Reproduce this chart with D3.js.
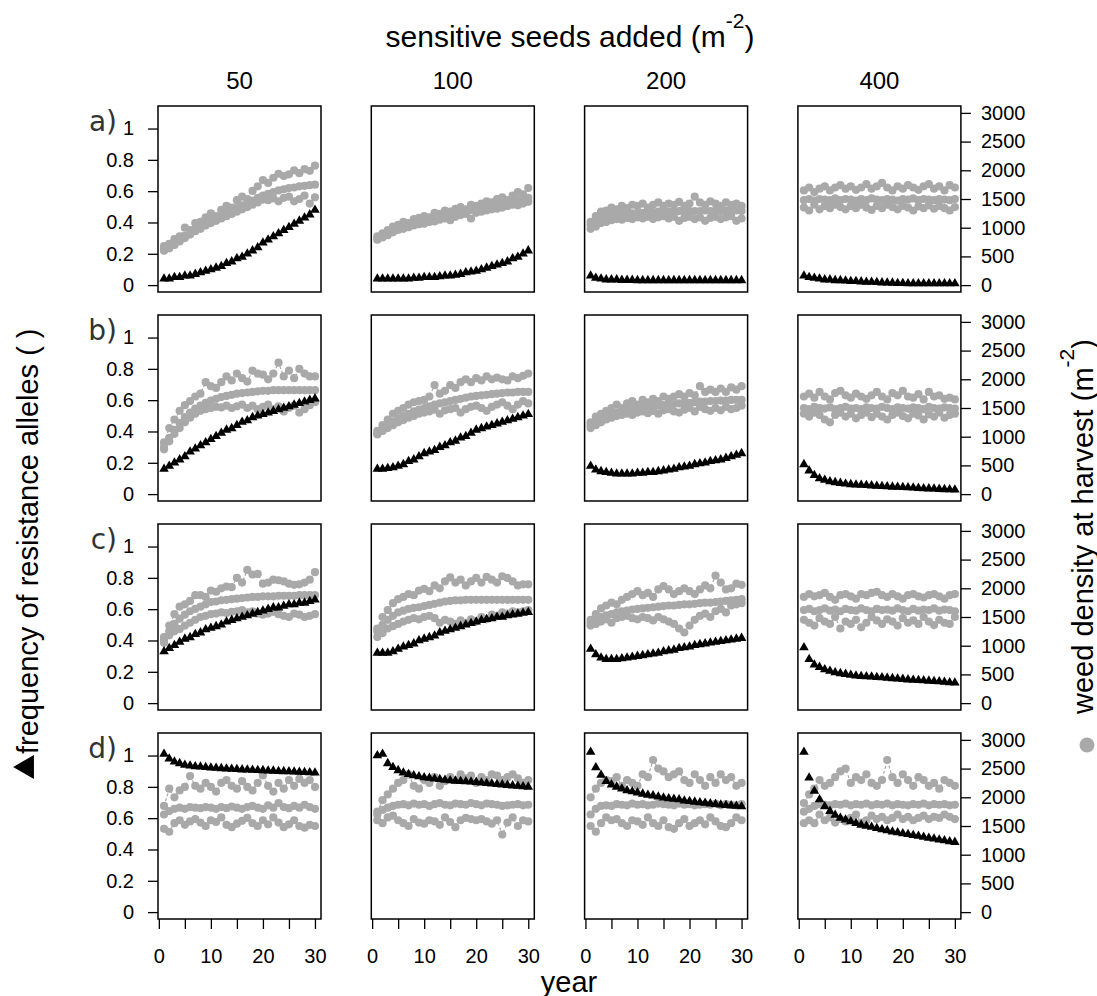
<!DOCTYPE html>
<html lang="en">
<head>
  <meta charset="UTF-8">
  <title>Resistance allele frequency and weed density</title>
  <script src="https://d3js.org/d3.v7.min.js"></script>
  <style>
    body { margin: 0; background: #fff; }
    text { font-family: "Liberation Sans", Arial, sans-serif; fill: #000; }
    .tick line { stroke: #000; stroke-width: 1.3px; }
    .tick text { font-size: 20px; }
  </style>
</head>
<body>
  <svg id="chart" width="1097" height="996"></svg>
  <script>
    // ---- data -------------------------------------------------------------
    const years = [1,2,3,4,5,6,7,8,9,10,11,12,13,14,15,16,17,18,19,20,21,22,23,24,25,26,27,28,29,30];
    const rowLabels = ['a)', 'b)', 'c)', 'd)'];
    const seedLevels = [50, 100, 200, 400];
    const freqTicks = [0, 0.2, 0.4, 0.6, 0.8, 1];
    const densTicks = [0, 500, 1000, 1500, 2000, 2500, 3000];
    const yearTicks = [0, 5, 10, 15, 20, 25, 30];
    const yearLabels = [0, 10, 20, 30];

    // row a
    const freq_a50 = [0.04,0.04,0.05,0.05,0.06,0.06,0.07,0.08,0.09,0.10,0.11,0.12,0.14,0.15,0.17,0.18,0.20,0.22,0.24,0.27,0.29,0.31,0.33,0.35,0.37,0.39,0.41,0.43,0.45,0.48];
    const hi_a50 = [680,720,800,850,1000,960,1080,1100,1180,1250,1200,1310,1380,1350,1480,1540,1500,1640,1720,1830,1780,1870,1940,1900,1930,2000,1950,2020,1990,2080];
    const mid_a50 = [630,660,720,780,860,920,980,1030,1080,1120,1170,1220,1260,1300,1340,1390,1430,1470,1520,1560,1590,1620,1650,1670,1690,1700,1720,1730,1740,1750];
    const lo_a50 = [600,640,700,760,820,880,940,980,1040,1080,1120,1160,1200,1240,1280,1320,1360,1400,1440,1490,1480,1510,1460,1520,1540,1460,1500,1560,1420,1530];

    const freq_a100 = [0.04,0.04,0.04,0.04,0.04,0.04,0.04,0.045,0.045,0.05,0.05,0.05,0.055,0.06,0.06,0.065,0.07,0.08,0.085,0.09,0.10,0.11,0.12,0.13,0.14,0.15,0.17,0.18,0.20,0.22];
    const hi_a100 = [850,900,960,1020,1050,1100,1080,1150,1170,1200,1180,1260,1240,1300,1280,1330,1360,1320,1400,1380,1420,1460,1440,1500,1530,1480,1560,1620,1580,1690];
    const mid_a100 = [810,850,900,950,990,1020,1050,1070,1090,1110,1130,1160,1180,1200,1230,1250,1270,1290,1310,1320,1340,1360,1380,1400,1420,1440,1460,1480,1500,1520];
    const lo_a100 = [790,830,870,920,960,980,1010,1040,1060,1070,1100,1110,1140,1160,1130,1190,1220,1240,1160,1260,1280,1300,1320,1330,1350,1380,1400,1390,1420,1450];

    const freq_a200 = [0.06,0.045,0.04,0.035,0.035,0.035,0.032,0.032,0.032,0.03,0.03,0.03,0.03,0.03,0.03,0.03,0.03,0.03,0.03,0.03,0.03,0.03,0.03,0.03,0.03,0.03,0.03,0.03,0.03,0.03];
    const hi_a200 = [1100,1200,1280,1300,1350,1320,1380,1340,1400,1380,1420,1350,1400,1440,1380,1420,1400,1450,1380,1420,1540,1440,1400,1460,1420,1380,1440,1400,1420,1380];
    const mid_a200 = [1050,1120,1180,1200,1220,1230,1240,1250,1250,1260,1260,1270,1270,1280,1270,1280,1280,1290,1280,1290,1290,1290,1300,1290,1300,1290,1300,1290,1300,1290];
    const lo_a200 = [980,1020,1080,1100,1130,1150,1140,1170,1150,1180,1160,1190,1150,1180,1200,1160,1190,1120,1170,1190,1150,1180,1120,1170,1190,1150,1180,1200,1120,1160];

    const freq_a400 = [0.06,0.05,0.045,0.04,0.035,0.035,0.03,0.03,0.028,0.025,0.025,0.022,0.02,0.02,0.018,0.016,0.015,0.014,0.012,0.012,0.01,0.01,0.01,0.01,0.01,0.01,0.01,0.01,0.01,0.01];
    const hi_a400 = [1650,1700,1620,1680,1720,1650,1700,1740,1680,1720,1660,1700,1760,1680,1720,1780,1700,1650,1720,1680,1740,1700,1660,1720,1760,1680,1720,1650,1740,1700];
    const mid_a400 = [1480,1500,1470,1500,1490,1480,1510,1480,1500,1490,1470,1500,1480,1510,1490,1480,1500,1490,1470,1500,1490,1510,1480,1500,1490,1480,1500,1490,1480,1500];
    const lo_a400 = [1350,1300,1400,1320,1380,1340,1400,1360,1320,1380,1340,1400,1350,1310,1380,1340,1400,1360,1320,1380,1350,1300,1370,1340,1390,1330,1380,1340,1300,1360];

    // row b
    const freq_b50 = [0.16,0.18,0.20,0.22,0.24,0.27,0.29,0.31,0.33,0.35,0.37,0.39,0.41,0.42,0.44,0.46,0.47,0.49,0.50,0.51,0.52,0.53,0.54,0.55,0.56,0.57,0.58,0.59,0.60,0.61];
    const hi_b50 = [900,1150,1300,1450,1550,1620,1700,1750,1950,1880,1850,1950,2050,1980,2100,2020,1960,2150,2100,2080,2000,2100,2290,2050,2150,2020,2180,2100,2050,2050];
    const mid_b50 = [820,980,1120,1240,1340,1420,1490,1540,1590,1630,1660,1690,1710,1730,1750,1760,1770,1780,1790,1800,1800,1810,1810,1810,1810,1810,1810,1810,1810,1810];
    const lo_b50 = [780,920,1050,1150,1250,1330,1400,1450,1480,1500,1520,1510,1540,1500,1530,1560,1500,1540,1480,1520,1560,1480,1530,1440,1500,1540,1420,1480,1550,1600];

    const freq_b100 = [0.16,0.16,0.165,0.17,0.18,0.19,0.21,0.22,0.24,0.26,0.27,0.28,0.30,0.31,0.33,0.34,0.36,0.37,0.39,0.41,0.42,0.43,0.44,0.45,0.46,0.47,0.48,0.49,0.50,0.51];
    const hi_b100 = [1100,1200,1300,1400,1450,1500,1560,1600,1620,1640,1700,1900,1750,1800,1900,1850,1950,2000,1950,2020,1980,2050,2000,2030,2000,1980,2050,2020,2060,2100];
    const mid_b100 = [1060,1130,1200,1260,1310,1360,1400,1440,1470,1500,1530,1560,1580,1600,1620,1640,1660,1680,1700,1710,1720,1730,1740,1750,1760,1770,1770,1780,1780,1780];
    const lo_b100 = [1040,1100,1150,1200,1250,1290,1330,1360,1400,1420,1440,1470,1400,1460,1480,1500,1420,1480,1520,1540,1500,1450,1520,1560,1600,1540,1480,1560,1620,1580];

    const freq_b200 = [0.18,0.155,0.145,0.14,0.135,0.13,0.13,0.13,0.13,0.135,0.135,0.14,0.14,0.145,0.15,0.155,0.16,0.17,0.175,0.18,0.19,0.195,0.20,0.21,0.215,0.22,0.23,0.24,0.25,0.26];
    const hi_b200 = [1250,1350,1400,1450,1500,1560,1500,1580,1620,1560,1640,1600,1660,1620,1700,1660,1700,1740,1700,1760,1720,1880,1780,1820,1780,1840,1780,1860,1820,1880];
    const mid_b200 = [1200,1260,1320,1360,1400,1420,1450,1470,1480,1500,1510,1520,1540,1540,1550,1560,1570,1580,1590,1590,1600,1610,1610,1620,1620,1630,1630,1640,1640,1640];
    const lo_b200 = [1150,1200,1250,1300,1330,1360,1380,1400,1380,1420,1440,1410,1450,1400,1460,1480,1440,1420,1470,1500,1440,1520,1480,1450,1500,1460,1520,1480,1500,1540];

    const freq_b400 = [0.19,0.15,0.12,0.10,0.09,0.08,0.075,0.07,0.066,0.062,0.06,0.058,0.056,0.054,0.052,0.05,0.048,0.046,0.045,0.044,0.042,0.04,0.038,0.036,0.035,0.034,0.032,0.03,0.029,0.028];
    const hi_b400 = [1700,1750,1680,1780,1700,1650,1760,1800,1720,1680,1750,1700,1660,1720,1780,1700,1650,1760,1720,1800,1700,1680,1740,1650,1780,1700,1720,1660,1680,1650];
    const mid_b400 = [1500,1480,1520,1500,1490,1510,1480,1500,1520,1490,1500,1480,1510,1500,1490,1520,1500,1480,1510,1500,1490,1510,1500,1480,1520,1500,1490,1510,1500,1490];
    const lo_b400 = [1400,1350,1420,1380,1300,1250,1380,1420,1350,1400,1320,1380,1420,1340,1400,1350,1300,1380,1420,1360,1320,1400,1370,1300,1390,1350,1420,1330,1380,1400];

    // row c
    const freq_c50 = [0.33,0.35,0.37,0.39,0.41,0.42,0.44,0.45,0.47,0.48,0.49,0.50,0.52,0.53,0.54,0.55,0.56,0.57,0.58,0.59,0.60,0.61,0.61,0.62,0.63,0.63,0.64,0.64,0.65,0.66];
    const hi_c50 = [1150,1350,1550,1680,1720,1780,1880,1880,1850,1960,1940,2000,2030,2020,2180,2100,2320,2240,2250,2080,2100,2150,2140,2120,2080,2060,2070,2100,2150,2280];
    const mid_c50 = [1100,1250,1380,1470,1540,1600,1640,1680,1720,1760,1770,1790,1800,1810,1820,1830,1840,1850,1850,1860,1860,1860,1870,1870,1870,1870,1880,1880,1880,1880];
    const lo_c50 = [1050,1180,1250,1290,1350,1400,1450,1500,1520,1550,1560,1580,1570,1590,1600,1620,1580,1600,1560,1540,1560,1590,1550,1520,1500,1560,1540,1500,1520,1550];

    const freq_c100 = [0.32,0.32,0.32,0.33,0.345,0.36,0.37,0.38,0.40,0.41,0.42,0.43,0.45,0.46,0.47,0.48,0.49,0.50,0.51,0.52,0.53,0.535,0.54,0.55,0.55,0.56,0.565,0.57,0.575,0.58];
    const hi_c100 = [1300,1500,1620,1740,1810,1850,1900,1880,1960,1990,1950,2050,2000,2120,2190,2100,2150,2050,2120,2180,2100,2200,2150,2100,2210,2180,2120,2050,2070,2070];
    const mid_c100 = [1250,1360,1450,1520,1580,1610,1640,1660,1670,1690,1710,1730,1750,1770,1780,1790,1790,1800,1800,1800,1800,1800,1800,1800,1800,1800,1800,1800,1800,1800];
    const lo_c100 = [1150,1220,1300,1340,1380,1420,1450,1480,1460,1500,1520,1480,1400,1450,1420,1380,1440,1400,1460,1420,1500,1460,1540,1520,1580,1560,1600,1580,1600,1620];

    const freq_c200 = [0.345,0.31,0.29,0.28,0.28,0.28,0.285,0.29,0.295,0.30,0.305,0.31,0.315,0.32,0.33,0.335,0.34,0.35,0.355,0.36,0.37,0.375,0.38,0.385,0.39,0.395,0.40,0.405,0.41,0.415];
    const hi_c200 = [1450,1550,1650,1700,1750,1720,1800,1850,1900,1950,1880,1920,1850,1980,2040,1980,1900,1950,2000,1950,1900,1980,2050,2000,2220,2100,1980,2000,2080,2060];
    const mid_c200 = [1400,1450,1500,1530,1550,1580,1600,1610,1630,1640,1650,1660,1670,1680,1690,1700,1700,1710,1720,1720,1730,1740,1750,1750,1760,1770,1780,1790,1800,1810];
    const lo_c200 = [1350,1380,1420,1460,1400,1480,1500,1520,1480,1460,1500,1480,1440,1500,1460,1420,1380,1300,1230,1350,1450,1520,1560,1500,1600,1640,1580,1700,1720,1740];

    const freq_c400 = [0.355,0.28,0.245,0.23,0.215,0.205,0.195,0.19,0.185,0.18,0.175,0.172,0.17,0.168,0.165,0.163,0.16,0.158,0.155,0.153,0.15,0.148,0.146,0.144,0.142,0.14,0.138,0.135,0.132,0.13];
    const hi_c400 = [1850,1900,1860,1880,1920,1850,1800,1880,1900,1860,1820,1900,1880,1920,1940,1880,1850,1900,1860,1820,1880,1900,1860,1840,1880,1900,1860,1820,1880,1900];
    const mid_c400 = [1620,1640,1600,1620,1650,1610,1630,1600,1640,1620,1610,1650,1620,1600,1640,1620,1630,1610,1650,1620,1600,1640,1610,1630,1620,1650,1610,1630,1620,1600];
    const lo_c400 = [1450,1400,1350,1480,1420,1380,1500,1300,1420,1380,1450,1320,1400,1500,1440,1380,1460,1420,1350,1480,1400,1440,1380,1500,1420,1360,1450,1400,1380,1500];

    // row d
    const freq_d50 = [1.01,0.98,0.96,0.95,0.94,0.935,0.93,0.928,0.925,0.922,0.92,0.918,0.916,0.914,0.912,0.91,0.909,0.908,0.906,0.905,0.903,0.902,0.90,0.899,0.898,0.896,0.895,0.893,0.892,0.89];
    const hi_d50 = [1850,2150,2000,2120,2180,2370,2200,2150,2250,2180,2100,2250,2300,2200,2150,2280,2180,2120,2250,2380,2200,2100,2250,2150,2300,2200,2320,2250,2300,2180];
    const mid_d50 = [1700,1760,1800,1820,1800,1830,1820,1810,1830,1820,1800,1830,1810,1840,1820,1800,1830,1850,1820,1800,1860,1820,1900,1830,1810,1850,1820,1870,1830,1800];
    const lo_d50 = [1450,1400,1550,1600,1520,1580,1620,1560,1500,1600,1570,1650,1520,1480,1540,1590,1640,1550,1500,1600,1530,1650,1560,1480,1530,1600,1500,1470,1520,1500];

    const freq_d100 = [1.0,1.01,0.95,0.925,0.905,0.89,0.88,0.872,0.866,0.86,0.856,0.852,0.848,0.844,0.84,0.838,0.836,0.834,0.832,0.83,0.826,0.823,0.82,0.817,0.814,0.811,0.808,0.805,0.802,0.80];
    const hi_d100 = [1750,1950,2050,2150,2250,2300,2400,2200,2150,2300,2250,2350,2200,2280,2350,2300,2400,2330,2380,2250,2350,2300,2400,2380,2300,2350,2400,2330,2250,2300];
    const mid_d100 = [1700,1780,1820,1850,1870,1880,1860,1890,1870,1880,1850,1880,1900,1870,1860,1890,1880,1870,1900,1880,1860,1890,1880,1870,1850,1860,1870,1880,1860,1870];
    const lo_d100 = [1600,1550,1650,1680,1600,1550,1500,1620,1560,1540,1600,1580,1520,1650,1570,1480,1600,1640,1620,1600,1620,1580,1540,1600,1350,1560,1650,1500,1600,1580];

    const freq_d200 = [1.023,0.924,0.876,0.836,0.814,0.80,0.788,0.777,0.77,0.763,0.755,0.748,0.744,0.737,0.73,0.726,0.722,0.719,0.711,0.708,0.704,0.70,0.697,0.693,0.689,0.686,0.682,0.68,0.678,0.675];
    const hi_d200 = [2000,2150,2250,2300,2280,2350,2200,2300,2250,2200,2400,2350,2650,2500,2450,2350,2400,2450,2300,2250,2400,2300,2200,2350,2250,2400,2300,2350,2200,2250];
    const mid_d200 = [1700,1800,1850,1860,1850,1880,1870,1860,1890,1870,1880,1860,1870,1890,1880,1870,1860,1890,1870,1880,1860,1870,1880,1870,1890,1860,1880,1870,1860,1880];
    const lo_d200 = [1500,1400,1550,1650,1600,1620,1550,1500,1600,1580,1520,1650,1550,1500,1600,1480,1450,1550,1620,1500,1550,1600,1530,1650,1580,1500,1480,1550,1650,1600];

    const freq_d400 = [1.023,0.858,0.774,0.719,0.675,0.645,0.62,0.601,0.59,0.579,0.568,0.557,0.55,0.543,0.535,0.528,0.521,0.513,0.508,0.502,0.497,0.491,0.486,0.48,0.473,0.468,0.462,0.457,0.451,0.447];
    const hi_d400 = [1900,2050,2150,2300,2200,2250,2350,2450,2500,2250,2350,2300,2400,2250,2200,2300,2650,2350,2250,2400,2300,2200,2350,2300,2200,2250,2150,2300,2250,2200];
    const mid_d400 = [1750,1800,1850,1880,1870,1860,1880,1870,1890,1860,1880,1870,1890,1860,1880,1870,1890,1860,1880,1870,1860,1880,1870,1890,1860,1880,1870,1880,1860,1870];
    const lo_d400 = [1550,1600,1550,1700,1600,1650,1560,1620,1580,1640,1700,1560,1600,1680,1620,1660,1600,1640,1700,1620,1660,1600,1640,1680,1620,1660,1640,1700,1660,1620];

    // lookup table for the panel loop
    const panelData = {
      a50: [freq_a50, hi_a50, mid_a50, lo_a50], a100: [freq_a100, hi_a100, mid_a100, lo_a100],
      a200: [freq_a200, hi_a200, mid_a200, lo_a200], a400: [freq_a400, hi_a400, mid_a400, lo_a400],
      b50: [freq_b50, hi_b50, mid_b50, lo_b50], b100: [freq_b100, hi_b100, mid_b100, lo_b100],
      b200: [freq_b200, hi_b200, mid_b200, lo_b200], b400: [freq_b400, hi_b400, mid_b400, lo_b400],
      c50: [freq_c50, hi_c50, mid_c50, lo_c50], c100: [freq_c100, hi_c100, mid_c100, lo_c100],
      c200: [freq_c200, hi_c200, mid_c200, lo_c200], c400: [freq_c400, hi_c400, mid_c400, lo_c400],
      d50: [freq_d50, hi_d50, mid_d50, lo_d50], d100: [freq_d100, hi_d100, mid_d100, lo_d100],
      d200: [freq_d200, hi_d200, mid_d200, lo_d200], d400: [freq_d400, hi_d400, mid_d400, lo_d400]
    };

    // ---- layout -----------------------------------------------------------
    const svg = d3.select('#chart');
    const left0 = 158, colStep = 213.3, panelW = 163;
    const top0 = 106, rowStep = 209, panelH = 186;
    const grey = '#a9a9a9';

    // R style axes: 4% padding around the data range
    const x = d3.scaleLinear().domain([1 - 1.16, 30 + 1.16]).range([0, panelW]);
    const yFreq = d3.scaleLinear().domain([-0.044, 1.144]).range([panelH, 0]);
    const yDens = d3.scaleLinear().domain([-120, 3120]).range([panelH, 0]);

    const densLine = d3.line().x((d, i) => x(years[i])).y(d => yDens(d));
    const tri = d3.symbol().type(d3.symbolTriangle).size(40);

    rowLabels.forEach((lab, r) => {
      seedLevels.forEach((seed, c) => {
        const key = lab[0] + seed;
        const [freq, hi, mid, lo] = panelData[key];
        const g = svg.append('g')
          .attr('transform', `translate(${left0 + c * colStep},${top0 + r * rowStep})`);

        [hi, lo, mid].forEach(series => {
          g.append('path')
            .attr('d', densLine(series))
            .attr('fill', 'none')
            .attr('stroke', grey)
            .attr('stroke-width', 1.2)
            .attr('stroke-dasharray', '3,2');
          g.selectAll(null)
            .data(series)
            .join('circle')
            .attr('cx', (d, i) => x(years[i]))
            .attr('cy', d => yDens(d))
            .attr('r', 4.1)
            .attr('fill', grey);
        });

        g.selectAll(null)
          .data(freq)
          .join('path')
          .attr('d', tri)
          .attr('transform', (d, i) => `translate(${x(years[i])},${yFreq(d)})`)
          .attr('fill', '#000');

        g.append('rect')
          .attr('width', panelW).attr('height', panelH)
          .attr('fill', 'none').attr('stroke', '#000').attr('stroke-width', 1.5);

        if (c === 0) {
          const ax = g.append('g').call(d3.axisLeft(yFreq).tickValues(freqTicks)
            .tickSize(10).tickPadding(14).tickFormat(d3.format('~g')));
          ax.select('.domain').remove();
          svg.append('text')
            .attr('x', 117).attr('y', top0 + r * rowStep + 25)
            .attr('text-anchor', 'end')
            .style('font-family', '"DejaVu Sans", sans-serif')
            .style('font-size', '28px')
            .style('fill', '#333')
            .text(lab);
        }
        if (c === 3) {
          const ax = g.append('g').attr('transform', `translate(${panelW},0)`)
            .call(d3.axisRight(yDens).tickValues(densTicks).tickSize(10).tickPadding(10)
              .tickFormat(d3.format('d')));
          ax.select('.domain').remove();
        }
        if (r === 3) {
          const ax = g.append('g').attr('transform', `translate(0,${panelH})`)
            .call(d3.axisBottom(x).tickValues(yearTicks).tickSize(10).tickPadding(20)
              .tickFormat(d => yearLabels.includes(d) ? d : ''));
          ax.select('.domain').remove();
        }
        if (r === 0) {
          svg.append('text')
            .attr('x', left0 + c * colStep + panelW / 2).attr('y', 89)
            .attr('text-anchor', 'middle')
            .style('font-size', '24px')
            .text(seed);
        }
      });
    });

    // ---- titles -----------------------------------------------------------
    const title = svg.append('text')
      .attr('x', 570).attr('y', 47)
      .attr('text-anchor', 'middle')
      .style('font-size', '30px');
    title.append('tspan').text('sensitive seeds added (m');
    title.append('tspan').attr('dy', -19).style('font-size', '21px').text('-2');
    title.append('tspan').attr('dy', 19).text(')');

    svg.append('text')
      .attr('x', 569).attr('y', 992)
      .attr('text-anchor', 'middle')
      .style('font-size', '29px')
      .text('year');

    // left axis title with its triangle key
    svg.append('path')
      .attr('d', d3.symbol().type(d3.symbolTriangle).size(250))
      .attr('transform', 'translate(27,767) rotate(-90)')
      .attr('fill', '#000');
    svg.append('text')
      .attr('transform', 'translate(38,754) rotate(-90)')
      .style('font-size', '29px')
      .text('frequency of resistance alleles ( )');

    // right axis title with its dot key
    svg.append('circle')
      .attr('cx', 1087).attr('cy', 745).attr('r', 7.5)
      .attr('fill', grey);
    const rt = svg.append('text')
      .attr('transform', 'translate(1093,714) rotate(-90)')
      .style('font-size', '29px');
    rt.append('tspan').text('weed density at harvest (m');
    rt.append('tspan').attr('dy', -19).style('font-size', '21px').text('-2');
    rt.append('tspan').attr('dy', 19).text(')');
  </script>
</body>
</html>
